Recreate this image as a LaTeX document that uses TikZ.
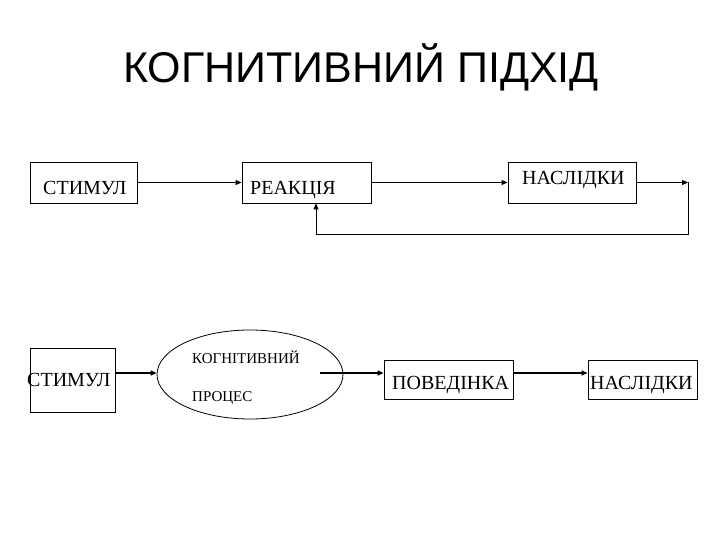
\documentclass[tikz,border=0pt]{standalone}
\usepackage{fontspec}
\setmainfont{Liberation Serif}
\newfontfamily\titlefont{Liberation Sans}
\usetikzlibrary{arrows.meta,shapes.geometric}
\begin{document}
\begin{tikzpicture}[x=1pt,y=-1pt,
  boxnode/.style={draw, line width=0.9pt, inner sep=0pt},
  boxtext/.style={anchor=base west, inner sep=0pt, font=\fontsize{20}{24}\selectfont},
  smalltext/.style={anchor=base west, inner sep=0pt, font=\fontsize{15}{18}\selectfont},
  thinarrow/.style={line width=0.9pt, -{Triangle[length=6pt,width=5pt]}},
  thickarrow/.style={line width=1.8pt, -{Triangle[length=6pt,width=5pt]}}]
\useasboundingbox (0,0) rectangle (720,540);
% title
\node[inner sep=0pt, anchor=base, font=\titlefont\fontsize{43}{50}\selectfont] (title) at (361,83) {КОГНИТИВНИЙ ПІДХІД};
% top row
\node[boxnode, minimum width=107pt, minimum height=41pt] (s1) at (83.5,182.5) {};
\node[boxnode, minimum width=129pt, minimum height=41pt] (r1) at (306.5,182.5) {};
\node[boxnode, minimum width=128pt, minimum height=41pt] (n1) at (572,182.5) {};
\node[boxtext] (s1t) at (43,195) {СТИМУЛ};
\node[boxtext] (r1t) at (250,195) {РЕАКЦІЯ};
\node[boxtext] (n1t) at (522,185) {НАСЛІДКИ};
\coordinate (fb1) at (688,182.5);
\coordinate (fb2) at (688,234);
\coordinate (fb3) at (316,234);
\coordinate (fb4) at (316,203);
\draw[thinarrow] (s1.east) -- (r1.west);
\draw[thinarrow] (r1.east) -- (n1.west);
\draw[thinarrow] (n1.east) -- (fb1);
\draw[thinarrow] (fb1) -- (fb2) -- (fb3) -- (r1.south -| fb3);
% bottom row
\node[boxnode, minimum width=85pt, minimum height=64pt] (s2) at (72.5,380) {};
\node[draw, ellipse, line width=0.8pt, inner sep=0pt, minimum width=186pt, minimum height=89pt] (e) at (250,374.5) {};
\node[boxnode, minimum width=129pt, minimum height=39pt] (p) at (448.5,379.5) {};
\node[boxnode, minimum width=109pt, minimum height=39pt] (n2) at (642.5,379.5) {};
\node[boxtext] (s2t) at (27,386) {СТИМУЛ};
\node[smalltext] (e1t) at (192,363) {КОГНІТИВНИЙ};
\node[smalltext] (e2t) at (192,401) {ПРОЦЕС};
\node[boxtext] (pt) at (392,389) {ПОВЕДІНКА};
\node[boxtext] (n2t) at (590,389) {НАСЛІДКИ};
\coordinate (c1) at (320,373);
\draw[thickarrow] (s2.east |- c1) -- (e.west |- c1);
\draw[thickarrow] (c1) -- (p.west |- c1);
\draw[thickarrow] (p.east |- c1) -- (n2.west |- c1);
\end{tikzpicture}
\end{document}
